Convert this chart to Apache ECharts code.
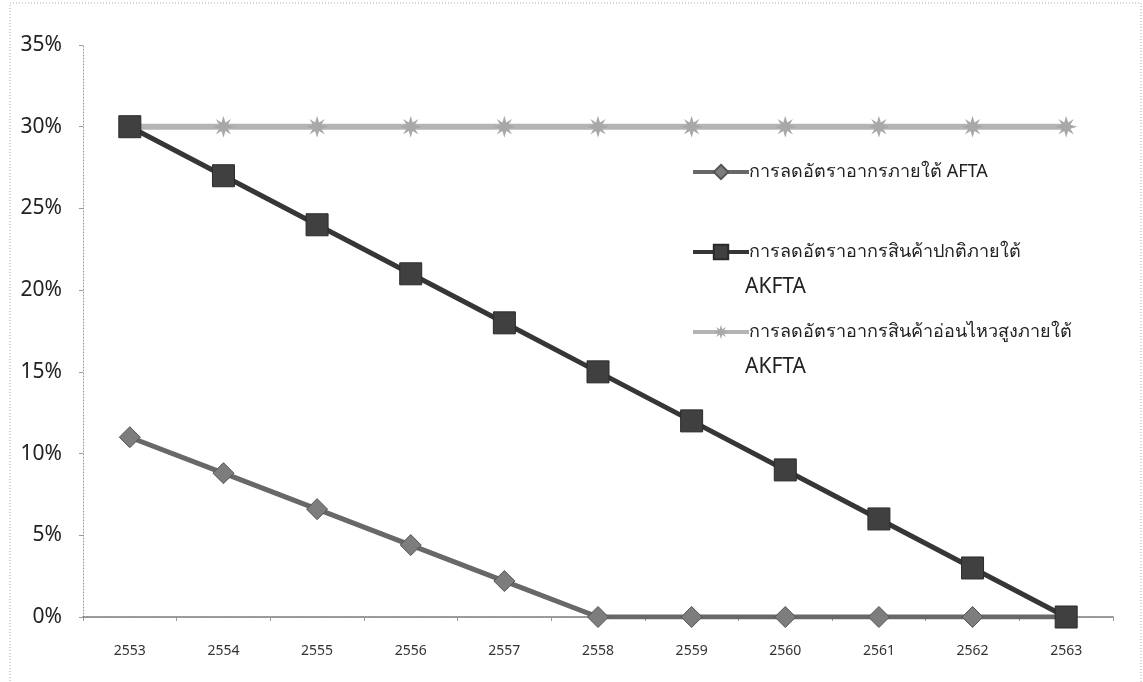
<!DOCTYPE html>
<html>
<head>
<meta charset="utf-8">
<script src="https://cdn.jsdelivr.net/npm/echarts@6/dist/echarts.min.js"></script>
<style>html,body{margin:0;padding:0;background:#fff;}#c{width:1143px;height:682px;}</style>
</head>
<body>
<div id="c"></div>
<script>
var categories = ['2553','2554','2555','2556','2557','2558','2559','2560','2561','2562','2563'];
var aftaValues = [11, 8.8, 6.6, 4.4, 2.2, 0, 0, 0, 0, 0, 0];
var akftaNormalValues = [30, 27, 24, 21, 18, 15, 12, 9, 6, 3, 0];
var akftaSensitiveValues = [30, 30, 30, 30, 30, 30, 30, 30, 30, 30, 30];
var seriesNames = ['การลดอัตราอากรภายใต้ AFTA', 'การลดอัตราอากรสินค้าปกติภายใต้ AKFTA', 'การลดอัตราอากรสินค้าอ่อนไหวสูงภายใต้ AKFTA'];
var legendLines = ['การลดอัตราอากรภายใต้ AFTA', 'การลดอัตราอากรสินค้าปกติภายใต้', 'การลดอัตราอากรสินค้าอ่อนไหวสูงภายใต้'];

var FONT = 'Tahoma, "Noto Sans", "DejaVu Sans", sans-serif';
var starPath = 'path://M5,0 L5.9,3.1 L8.5,1.5 L6.9,4.1 L10,5 L6.9,5.9 L8.5,8.5 L5.9,6.9 L5,10 L4.1,6.9 L1.5,8.5 L3.1,5.9 L0,5 L3.1,4.1 L1.5,1.5 L4.1,3.1 Z';

var chart = echarts.init(document.getElementById('c'));
function legendFor(i, top) {
  return {
    data: [seriesNames[i]],
    left: 686, top: top, orient: 'vertical',
    itemWidth: 56, itemHeight: 18,
    itemGap: 0, selectedMode: false,
    lineStyle: { width: 4 },
    formatter: function () { return legendLines[i]; },
    textStyle: { fontFamily: FONT, fontSize: 18, color: '#222', padding: [0,0,0,-5] }
  };
}
chart.setOption({
  animation: false,
  backgroundColor: '#fff',
  grid: { left: 83, right: 30, top: 45, bottom: 65 },
  legend: [legendFor(0, 158), legendFor(1, 238), legendFor(2, 318)],
  graphic: [
    { type: 'rect', shape: { x: 10, y: 3, width: 1131, height: 690 }, style: { fill: 'none', stroke: '#aaa', lineWidth: 1, lineDash: [1, 2] }, silent: true },
    { type: 'text', left: 745, top: 277, style: { text: 'AKFTA', fontFamily: FONT, fontSize: 21, fill: '#222' } },
    { type: 'text', left: 745, top: 357, style: { text: 'AKFTA', fontFamily: FONT, fontSize: 21, fill: '#222' } }
  ],
  xAxis: {
    type: 'category', data: categories, boundaryGap: true,
    axisLine: { lineStyle: { color: '#777', width: 1.5, type: [2, 1] } },
    axisTick: { show: true, length: 4, lineStyle: { color: '#999' } },
    axisLabel: { fontFamily: FONT, fontSize: 14, color: '#333', margin: 27 }
  },
  yAxis: {
    type: 'value', min: 0, max: 35, interval: 5,
    axisLine: { show: true, lineStyle: { color: '#999', width: 1, type: [1, 2] } },
    axisTick: { show: true, length: 4, lineStyle: { color: '#999' } },
    splitLine: { show: false },
    axisLabel: { fontFamily: FONT, fontSize: 21, color: '#222', margin: 21, formatter: '{value}%' }
  },
  series: [
    { name: seriesNames[0], type: 'line', data: aftaValues, symbol: 'diamond', symbolSize: 21,
      lineStyle: { color: '#686868', width: 5 }, itemStyle: { color: '#7d7d7d', borderColor: '#555', borderWidth: 1 }, z: 3 },
    { name: seriesNames[2], type: 'line', data: akftaSensitiveValues, symbol: starPath, symbolSize: 22,
      lineStyle: { color: '#b4b4b4', width: 6 }, itemStyle: { color: '#a8a8a8' }, z: 2 },
    { name: seriesNames[1], type: 'line', data: akftaNormalValues, symbol: 'rect', symbolSize: 22,
      lineStyle: { color: '#363636', width: 5 }, itemStyle: { color: '#404040', borderColor: '#2a2a2a', borderWidth: 1 }, z: 4 }
  ]
});
</script>
</body>
</html>
